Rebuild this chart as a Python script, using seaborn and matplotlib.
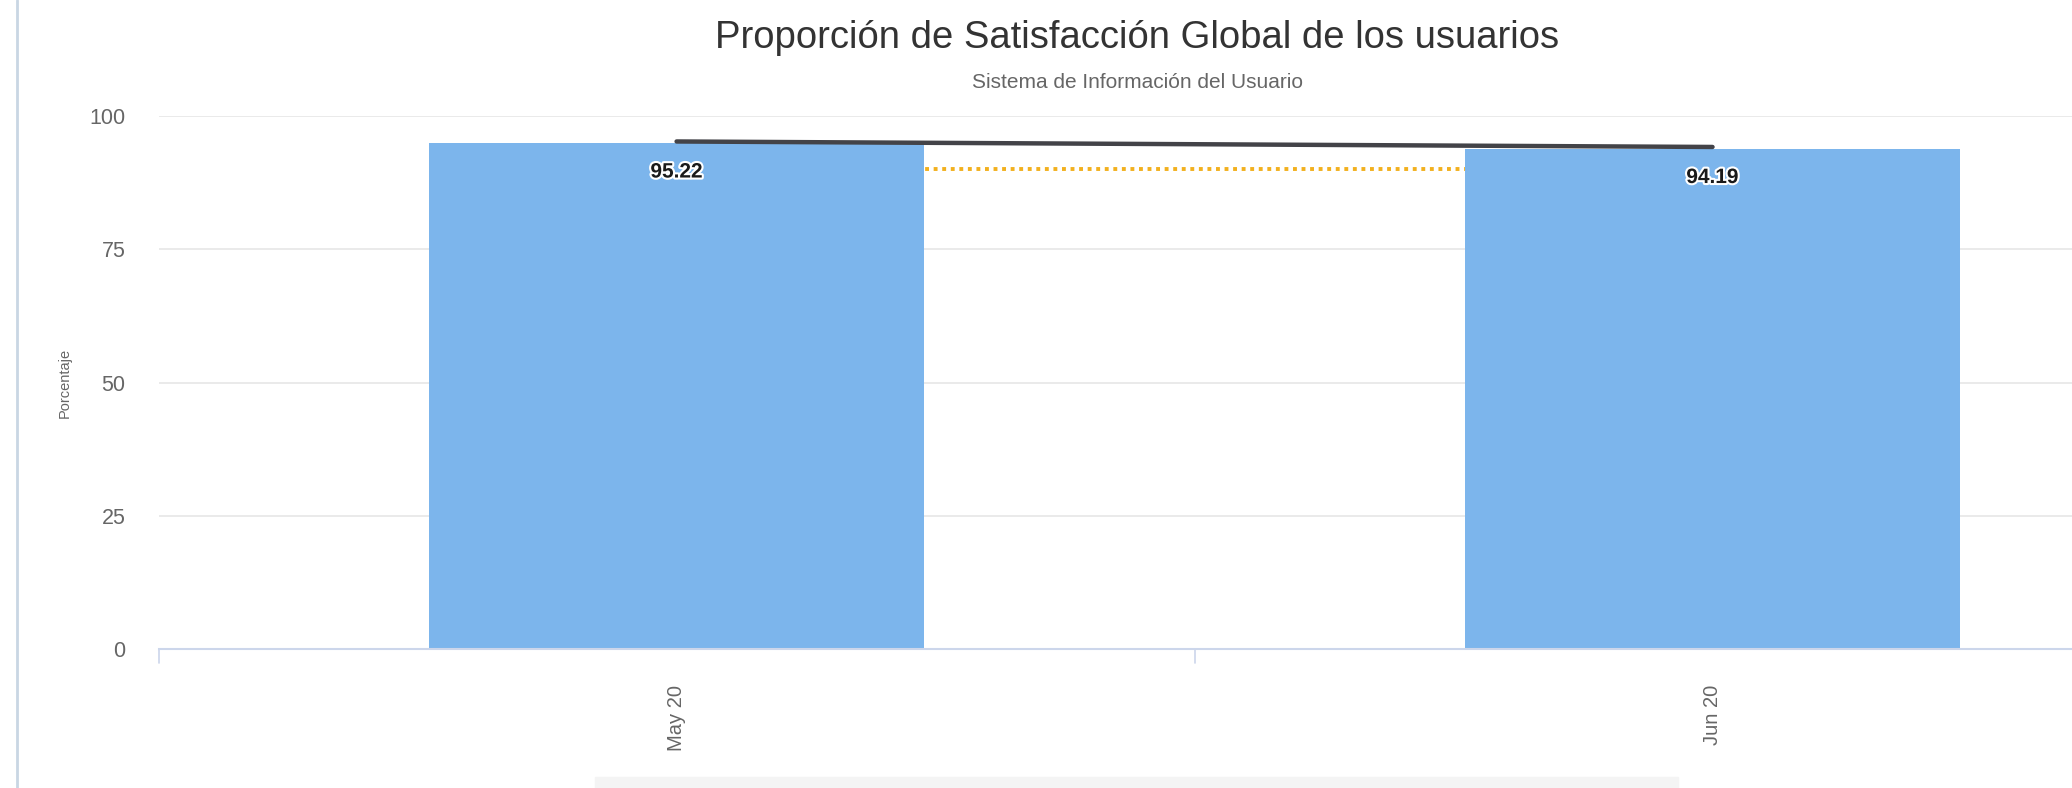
import numpy as np
import pandas as pd
import matplotlib
matplotlib.use("Agg")
import matplotlib.pyplot as plt
import matplotlib.patheffects as pe
from matplotlib.patches import Rectangle
from matplotlib.lines import Line2D
import seaborn as sns

# ---- data ----
categories = ["May 20", "Jun 20"]
bar_values = [94.9, 93.9]          # bars
line_values = [95.22, 94.19]       # satisfaction line (labels)
target_values = [90.0, 90.0]       # dotted target line
y_ticks = [0, 25, 50, 75, 100]

sns.set_theme(style="white")
plt.rcParams['font.family'] = ['Liberation Sans', 'DejaVu Sans']

W, H = 2072, 788
fig = plt.figure(figsize=(W / 100, H / 100), dpi=100)
ax = fig.add_axes([158.6 / W, (H - 649) / H, 1 - 158.6 / W, (649 - 116) / H])

df = pd.DataFrame({"cat": categories, "bar": bar_values,
                   "line": line_values, "target": target_values,
                   "pos": np.arange(len(categories))})

# dotted target line (behind bars)
sns.lineplot(data=df, x="pos", y="target", ax=ax, color="#f2b01e",
             linestyle=(0, (1, 1.2)), linewidth=2.8, zorder=1)

sns.barplot(data=df, x="pos", y="bar", ax=ax, color="#7cb5ec",
            saturation=1, width=0.478, linewidth=0, zorder=2,
            native_scale=True)

sns.lineplot(data=df, x="pos", y="line", ax=ax, color="#434348",
             linewidth=3.2, zorder=3)
for ln in ax.lines:
    ln.set_clip_on(False)

for p, v in zip(df["pos"], line_values):
    ax.annotate(f"{v:.2f}", xy=(p, v), xytext=(0, -22), textcoords="offset points",
                ha="center", va="center", fontsize=15, fontweight="bold",
                color="#1a1a1a", zorder=5,
                path_effects=[pe.withStroke(linewidth=3, foreground="white")])

ax.set_xlim(-0.5, 1.347)
ax.set_ylim(0, 100)
ax.set_yticks(y_ticks)
ax.set_yticklabels([str(t) for t in y_ticks], color="#666666", fontsize=15.5)
ax.tick_params(axis="y", length=0, pad=24)
ax.yaxis.grid(True, color="#e6e6e6", linewidth=1.2)
ax.set_axisbelow(True)

ax.set_xticks(df["pos"])
ax.set_xticklabels(categories, rotation=90, color="#666666", fontsize=14.5)
ax.tick_params(axis="x", length=0, pad=26)
# boundary ticks
for bx in [-0.5, 0.5]:
    ax.add_line(Line2D([bx, bx], [0, -2.6], color="#ccd6eb", linewidth=1.2,
                       clip_on=False, transform=ax.transData))

for s in ["top", "right", "left"]:
    ax.spines[s].set_visible(False)
ax.spines["bottom"].set_color("#ccd6eb")
ax.spines["bottom"].set_linewidth(1.5)

ax.set_xlabel("")
ax.set_ylabel("")
fig.text(65 / W, 1 - 383 / H, "Porcentaje", rotation=90, ha="center", va="center",
         color="#666666", fontsize=10.5)

fig.text(1137 / W, 1 - 48 / H, "Proporción de Satisfacción Global de los usuarios",
         ha="center", va="baseline", fontsize=27.5, color="#333333")
fig.text(1137 / W, 1 - 83 / H, "Sistema de Información del Usuario",
         ha="center", va="center", fontsize=15, color="#666666")

# left border line and bottom grey strip
fig.add_artist(Line2D([17 / W, 17 / W], [0, 1], color="#c9d6e3", linewidth=2,
                      transform=fig.transFigure))
fig.add_artist(Rectangle((595 / W, 0), (1678 - 595) / W, 11 / H,
                         transform=fig.transFigure, color="#f4f4f4", zorder=0))

fig.savefig("out.png", dpi=100)
